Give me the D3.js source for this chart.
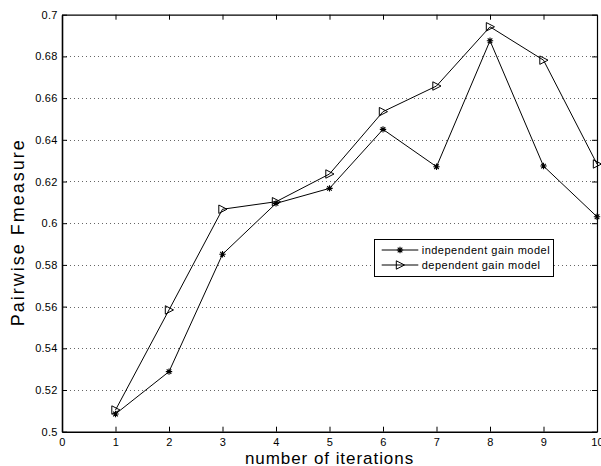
<!DOCTYPE html>
<html><head><meta charset="utf-8">
<script src="https://cdn.jsdelivr.net/npm/d3@7"></script>
<style>
body{margin:0;background:#fff}
svg text{font-family:"Liberation Sans",Arial,Helvetica,sans-serif;fill:#000}
</style>
</head><body>
<svg id="c" width="601" height="466"></svg>
<script>
const iterations = [1, 2, 3, 4, 5, 6, 7, 8, 9, 10];
const independentGain = [0.5085, 0.5288, 0.5851, 0.6095, 0.6167, 0.6450, 0.6271, 0.6875, 0.6274, 0.6031];
const dependentGain = [0.5104, 0.5584, 0.6067, 0.6103, 0.6236, 0.6535, 0.6658, 0.6942, 0.6782, 0.6284];
const xTicks = [0, 1, 2, 3, 4, 5, 6, 7, 8, 9, 10];
const yTicks = [0.5, 0.52, 0.54, 0.56, 0.58, 0.6, 0.62, 0.64, 0.66, 0.68, 0.7];
const seriesNames = ["independent gain model", "dependent gain model"];
const xLabel = "number of iterations";
const yLabel = "Pairwise Fmeasure";

const L = 62, R = 597, T = 14.7, B = 431.7;
const svg = d3.select("#c");
const x = d3.scaleLinear().domain([0, 10]).range([L, R]);
const y = d3.scaleLinear().domain([0.5, 0.7]).range([B, T]);

// grid
svg.append("g").selectAll("line").data(yTicks.filter(v => v > 0.5 && v < 0.7)).join("line")
  .attr("x1", L).attr("x2", R)
  .attr("y1", d => Math.round(y(d)) + 0.5).attr("y2", d => Math.round(y(d)) + 0.5)
  .attr("stroke", "#666").attr("stroke-width", 1).attr("stroke-dasharray", "1,3");

const fmtY = d => String(+d.toFixed(2));
function styleAxis(g, w) {
  g.selectAll("path.domain").attr("stroke", "#000").attr("stroke-width", w);
  g.selectAll(".tick line").attr("stroke", "#000");
  g.selectAll("text").attr("font-size", 11).attr("fill", "#000").style("letter-spacing", "0.2px");
}
svg.append("g").attr("transform", `translate(0,${B})`)
  .call(d3.axisBottom(x).tickValues(xTicks).tickSize(-5).tickSizeOuter(0).tickPadding(6.5).tickFormat(d3.format("d")))
  .call(styleAxis, 1.6);
svg.append("g").attr("transform", `translate(0,${T})`)
  .call(d3.axisTop(x).tickValues(xTicks).tickSize(-5).tickSizeOuter(0).tickFormat(""))
  .call(styleAxis, 1.2);
svg.append("g").attr("transform", `translate(${L},0)`)
  .call(d3.axisLeft(y).tickValues(yTicks).tickSize(-5).tickSizeOuter(0).tickPadding(4.5).tickFormat(fmtY))
  .call(styleAxis, 1.6);
svg.append("g").attr("transform", `translate(${R},0)`)
  .call(d3.axisRight(y).tickValues(yTicks).tickSize(-5).tickSizeOuter(0).tickFormat(""))
  .call(styleAxis, 1.2);
svg.selectAll("g").attr("font-family", null).attr("font-size", null);

// series lines
const line = d3.line().x((d, i) => x(iterations[i])).y(d => y(d));
svg.append("path").datum(independentGain).attr("d", line).attr("fill", "none").attr("stroke", "#000").attr("stroke-width", 1);
svg.append("path").datum(dependentGain).attr("d", line).attr("fill", "none").attr("stroke", "#000").attr("stroke-width", 1);

function star(g, cx, cy) {
  const s = 3.2, d = 2.3;
  const p = `M${cx - s},${cy}L${cx + s},${cy}M${cx},${cy - s}L${cx},${cy + s}` +
            `M${cx - d},${cy - d}L${cx + d},${cy + d}M${cx - d},${cy + d}L${cx + d},${cy - d}`;
  g.append("path").attr("d", p).attr("stroke", "#000").attr("stroke-width", 1.1).attr("fill", "none");
}
function tri(g, cx, cy) {
  const p = `M${cx - 3.7},${cy - 4.2}L${cx + 4.5},${cy}L${cx - 3.7},${cy + 4.2}Z`;
  g.append("path").attr("d", p).attr("stroke", "#000").attr("stroke-width", 1).attr("fill", "none");
}
const mk = svg.append("g");
independentGain.forEach((v, i) => star(mk, x(iterations[i]), y(v)));
dependentGain.forEach((v, i) => tri(mk, x(iterations[i]), y(v)));

// legend
const lg = svg.append("g");
lg.append("rect").attr("x", 374.5).attr("y", 239.5).attr("width", 179).attr("height", 37)
  .attr("fill", "#fff").attr("stroke", "#000").attr("stroke-width", 1);
const rows = [250, 265];
seriesNames.forEach((name, i) => {
  lg.append("line").attr("x1", 381.7).attr("x2", 418.3).attr("y1", rows[i]).attr("y2", rows[i])
    .attr("stroke", "#000").attr("stroke-width", 1);
  if (i === 0) star(lg, 400, rows[i]); else tri(lg, 400, rows[i]);
  lg.append("text").attr("x", 421.7).attr("y", rows[i] + 4).attr("font-size", 11)
    .style("letter-spacing", "0.5px").text(name);
});

// axis labels
svg.append("text").attr("x", (L + R) / 2).attr("y", 464).attr("text-anchor", "middle")
  .attr("font-size", 17).style("letter-spacing", "0.95px").text(xLabel);
svg.append("text").attr("transform", `translate(24,${(T + B) / 2 + 9}) rotate(-90)`).attr("text-anchor", "middle")
  .attr("font-size", 18).style("letter-spacing", "2px").text(yLabel);
</script>
</body></html>
